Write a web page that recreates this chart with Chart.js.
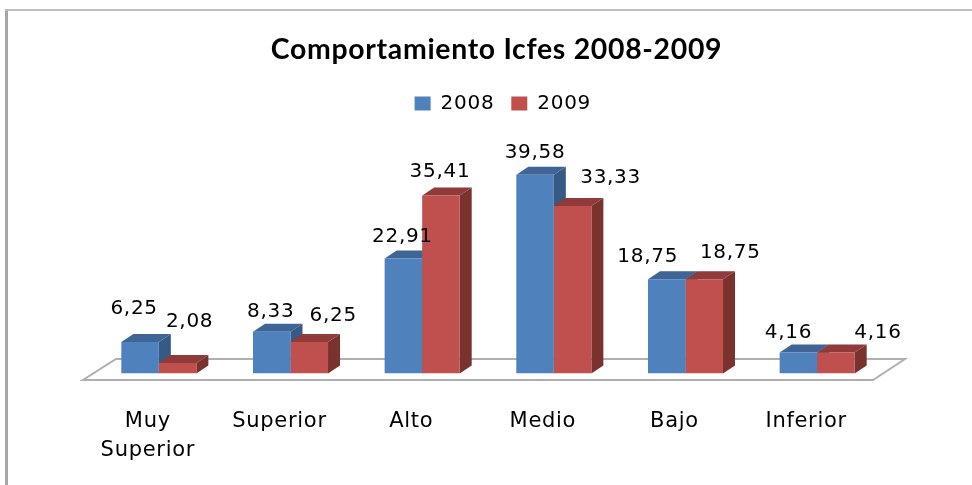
<!DOCTYPE html>
<html>
<head>
<meta charset="utf-8">
<script src="https://cdn.jsdelivr.net/npm/chart.js@4"></script>
<style>
html,body{margin:0;padding:0;background:#fff;overflow:hidden}
#frame{position:absolute;left:0;top:0;width:972px;height:485px}
#edgeL{position:absolute;left:5px;top:9px;width:3px;height:476px;background:#a6a6a6}
#edgeT{position:absolute;left:5px;top:9px;width:967px;height:2px;background:#bdbdbd}
canvas{position:absolute;left:0;top:0;filter:blur(0.35px)}
</style>
</head>
<body>
<div id="frame"><canvas id="c" width="972" height="485"></canvas><div id="edgeL"></div><div id="edgeT"></div></div>
<script>
const titleText = 'Comportamiento Icfes 2008-2009';
const categories = [['Muy','Superior'],'Superior','Alto','Medio','Bajo','Inferior'];
const seriesNames = ['2008','2009'];
const values2008 = [6.25,8.33,22.91,39.58,18.75,4.16];
const values2009 = [2.08,6.25,35.41,33.33,18.75,4.16];
const labelDx2008 = [-6,-1,-1,0,-19,-10];
const labelDy2008 = [-33.5,-19.5,-21.5,-22,-23,-20];
const labelDx2009 = [12,24,-1,38,26,42];
const labelDy2009 = [-41,-26,-23.5,-28.5,-26.5,-20];
const depthX = 12, depthY = 8;

const bar3d = {
  id:'bar3d',
  beforeDraw(chart){ chart.ctx.letterSpacing='0.7px'; },
  afterLayout(chart){
    chart.titleBlock.left+=8.5; chart.titleBlock.right+=8.5;
    chart.legend.left+=12; chart.legend.right+=12;
  },
  beforeDatasetsDraw(chart){
    const {ctx,chartArea:a,scales:{y}}=chart; const y0=y.getPixelForValue(0);
    ctx.save();
    ctx.strokeStyle='#b0b0b0';ctx.lineWidth=2;ctx.fillStyle='#fff';
    ctx.beginPath();
    ctx.moveTo(a.left-10,y0+6.5);ctx.lineTo(a.right-10,y0+6.5);
    ctx.lineTo(a.right+22,y0-14.5);ctx.lineTo(a.left+23,y0-14.5);ctx.closePath();
    ctx.fill();ctx.stroke();
    chart.data.datasets.forEach((ds,i)=>{
      const c=ds.faces;
      chart.getDatasetMeta(i).data.forEach(b=>{
        const l=b.x-b.width/2,r=b.x+b.width/2,t=b.y,bt=b.base;
        ctx.fillStyle=c.side;ctx.beginPath();
        ctx.moveTo(r,t);ctx.lineTo(r+depthX,t-depthY);ctx.lineTo(r+depthX,bt-depthY);ctx.lineTo(r,bt);ctx.closePath();ctx.fill();
        ctx.fillStyle=c.top;ctx.beginPath();
        ctx.moveTo(l,t);ctx.lineTo(l+depthX,t-depthY);ctx.lineTo(r+depthX,t-depthY);ctx.lineTo(r,t);ctx.closePath();ctx.fill();
      });
    });
    ctx.restore();
  },
  afterDatasetsDraw(chart){
    const {ctx}=chart;
    ctx.save();
    ctx.font='20px "DejaVu Sans"';ctx.fillStyle='#000';ctx.textAlign='center';ctx.textBaseline='middle';
    chart.data.datasets.forEach((ds,i)=>{
      chart.getDatasetMeta(i).data.forEach((b,j)=>{
        ctx.fillText(String(ds.data[j]).replace('.',','),b.x+ds.dx[j],b.y+ds.dy[j]);
      });
    });
    ctx.restore();
  }
};

new Chart(document.getElementById('c'),{
  type:'bar',
  plugins:[bar3d],
  data:{labels:categories,datasets:[
    {label:seriesNames[0],data:values2008,backgroundColor:'#4f81bd',faces:{top:'#3e6595',side:'#375a84'},dx:labelDx2008,dy:labelDy2008},
    {label:seriesNames[1],data:values2009,backgroundColor:'#c0504d',faces:{top:'#8e3b39',side:'#7a322f'},dx:labelDx2009,dy:labelDy2009}
  ]},
  options:{
    responsive:false,animation:false,
    layout:{padding:{left:93,right:89,top:33,bottom:0}},
    datasets:{bar:{categoryPercentage:0.57,barPercentage:1}},
    plugins:{
      tooltip:{enabled:false},
      title:{display:true,text:titleText,color:'#000',font:{family:'Lato',weight:'bold',size:28.4},padding:{top:0,bottom:9.5}},
      legend:{display:true,labels:{color:'#000',font:{family:'"DejaVu Sans"',size:20},boxWidth:16,boxHeight:14,padding:17}}
    },
    scales:{
      x:{grid:{display:false},border:{display:false},
        ticks:{color:'#000',padding:25,labelOffset:-11,maxRotation:0,autoSkip:false,font:{family:'"DejaVu Sans"',size:21,lineHeight:1.4}},
        afterFit(s){s.height=111.5;}},
      y:{display:false,min:0,max:49.75}
    }
  }
});
</script>
</body>
</html>
